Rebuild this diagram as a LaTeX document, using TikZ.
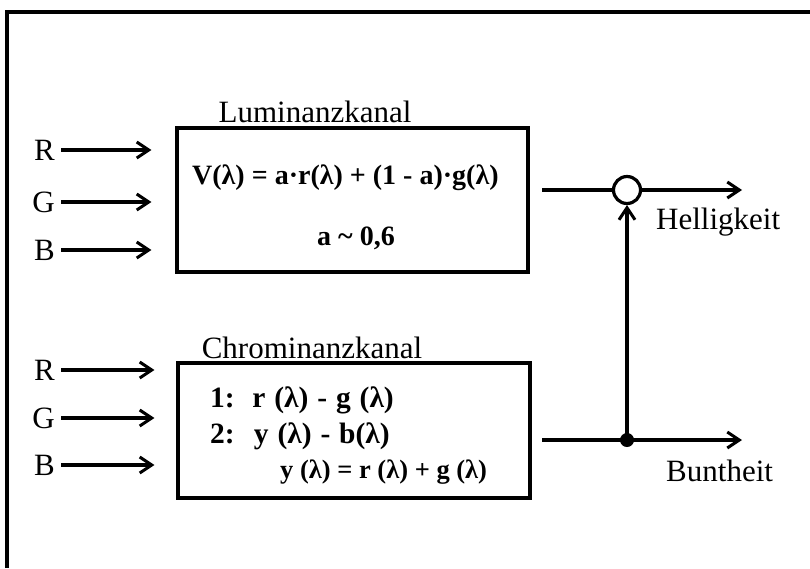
\documentclass[tikz,border=0pt]{standalone}
\usepackage{fontspec}
\setmainfont{Liberation Serif}
\usetikzlibrary{arrows.meta}
\begin{document}
\begin{tikzpicture}[x=1pt,y=-1pt,
  lw/.style={line width=3.2pt},
  arr/.style={lw,-{Straight Barb[length=12pt,width=16pt,line width=3pt]}},
  lab/.style={font=\fontsize{31}{34}\selectfont,inner sep=0pt},
  eq/.style={font=\bfseries\fontsize{28}{32}\selectfont,inner sep=0pt},
  eqb/.style={font=\bfseries\fontsize{29.5}{32}\selectfont,inner sep=0pt},
  chan/.style={draw,lw,inner sep=0pt}]
\useasboundingbox (0,0) rectangle (810,568);
% frame
\draw[lw] (7,568) -- (7,12) -- (810,12);
% boxes
\node[chan,minimum width=351pt,minimum height=144pt] (lum) at (352.5,200) {};
\node[chan,minimum width=352pt,minimum height=135pt] (chr) at (354,430.5) {};
\node[lab] (lumt) at (315,112) {Luminanzkanal};
\node[lab] (chrt) at (312,348) {Chrominanzkanal};
% box texts
\node[eq,anchor=west] (eq1) at (192,178) {V(λ) = a·r(λ) + (1 - a)·g(λ)};
\node[eq] (eq2) at (356,238) {a \textasciitilde{} 0,6};
\node[eqb,anchor=west] (c1) at (210,400) {\spaceskip=0.3em 1:\hspace{0.6em}r (λ) - g (λ)};
\node[eqb,anchor=west] (c2) at (210,436) {\spaceskip=0.3em 2:\hspace{0.65em}y (λ) - b(λ)};
\node[eq,anchor=west,font=\bfseries\fontsize{26.5}{30}\selectfont] (c3) at (280,472) {y (λ) = r (λ) + g (λ)};
% inputs
\node[lab,anchor=east] (r1) at (55,150) {R};
\node[lab,anchor=east] (g1) at (55,202) {G};
\node[lab,anchor=east] (b1) at (55,250) {B};
\node[lab,anchor=east] (r2) at (55,370) {R};
\node[lab,anchor=east] (g2) at (55,418) {G};
\node[lab,anchor=east] (b2) at (55,465) {B};
\foreach \n in {r1,g1,b1}{
  \draw[arr,shorten >=24pt] ([xshift=6pt]\n.east) -- (\n.east -| lum.west);
}
\foreach \n in {r2,g2,b2}{
  \draw[arr,shorten >=22pt] ([xshift=6pt]\n.east) -- (\n.east -| chr.west);
}
% outputs
\coordinate (o1) at (542,190);
\coordinate (o2) at (542,440);
\node[draw,circle,lw,minimum size=27pt,inner sep=0pt] (sum) at (627,190) {};
\node[fill,circle,minimum size=14pt,inner sep=0pt] (dot) at (627,440) {};
\coordinate (e1) at (742,190);
\coordinate (e2) at (742,440);
\draw[lw] (o1) -- (sum.west);
\draw[arr] (sum.east) -- (e1);
\draw[arr] (o2) -- (e2);
\draw[arr] (dot.center) -- (sum.south);
\node[lab,anchor=west] (hell) at (656,222) {Helligkeit};
\node[lab,anchor=west] (bunt) at (666,471) {Buntheit};
\end{tikzpicture}
\end{document}
